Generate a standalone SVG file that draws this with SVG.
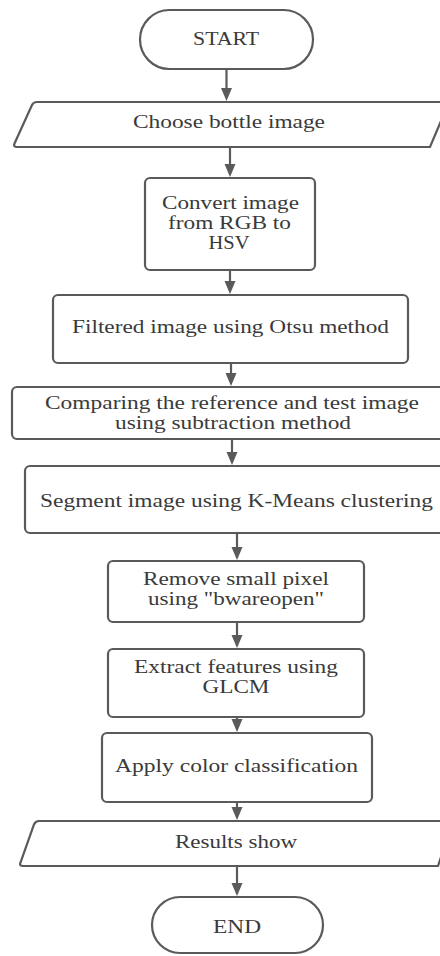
<svg xmlns="http://www.w3.org/2000/svg" width="440" height="956" viewBox="0 0 440 956">
<style>
.shape{fill:#ffffff;stroke:#5a5a5a;stroke-width:2.2}
.conn{stroke:#5a5a5a;stroke-width:2.2;fill:none}
text{font-family:"Liberation Serif","Times New Roman",serif;font-size:18px;fill:#3a3a3a;text-anchor:middle}
</style>
<defs>
<marker id="ah" markerUnits="userSpaceOnUse" markerWidth="14" markerHeight="12" refX="10" refY="5.5" orient="auto">
<path d="M0,0 L13,5.5 L0,11 z" fill="#5a5a5a"/>
</marker>
</defs>
<rect width="440" height="956" fill="#ffffff"/>
<g id="connectors">
<line class="conn" x1="226.5" y1="69" x2="226.5" y2="98" marker-end="url(#ah)"/>
<line class="conn" x1="230" y1="147" x2="230" y2="174" marker-end="url(#ah)"/>
<line class="conn" x1="230" y1="270" x2="230" y2="291" marker-end="url(#ah)"/>
<line class="conn" x1="231" y1="363" x2="231" y2="383" marker-end="url(#ah)"/>
<line class="conn" x1="232" y1="439" x2="232" y2="462" marker-end="url(#ah)"/>
<line class="conn" x1="237" y1="533" x2="237" y2="557" marker-end="url(#ah)"/>
<line class="conn" x1="237" y1="622" x2="237" y2="645" marker-end="url(#ah)"/>
<line class="conn" x1="237" y1="717" x2="237" y2="729" marker-end="url(#ah)"/>
<line class="conn" x1="237" y1="802" x2="237" y2="817" marker-end="url(#ah)"/>
<line class="conn" x1="237" y1="866" x2="237" y2="893" marker-end="url(#ah)"/>
</g>
<g id="start">
<rect class="shape" x="140" y="10" width="173" height="59" rx="29.5"/>
<text x="226" y="45" textLength="66" lengthAdjust="spacingAndGlyphs">START</text>
</g>
<g id="choose">
<path class="shape" d="M37,102 L449,102 L430,147 L17,147 Q13,147 14.5,143.5 L32,105 Q33.5,102 37,102 z"/>
<text x="229" y="128" textLength="192" lengthAdjust="spacingAndGlyphs">Choose bottle image</text>
</g>
<g id="convert">
<rect class="shape" x="145" y="178" width="170" height="92" rx="5"/>
<text x="230.5" y="209" textLength="137" lengthAdjust="spacingAndGlyphs">Convert image</text>
<text x="229.5" y="229" textLength="123" lengthAdjust="spacingAndGlyphs">from RGB to</text>
<text x="229" y="249" textLength="41" lengthAdjust="spacingAndGlyphs">HSV</text>
</g>
<g id="filtered">
<rect class="shape" x="53" y="295" width="355" height="68" rx="5"/>
<text x="230.5" y="333" textLength="317" lengthAdjust="spacingAndGlyphs">Filtered image using Otsu method</text>
</g>
<g id="comparing">
<rect class="shape" x="12" y="387" width="436" height="52" rx="5"/>
<text x="232" y="409" textLength="374" lengthAdjust="spacingAndGlyphs">Comparing the reference and test image</text>
<text x="233" y="429" textLength="236" lengthAdjust="spacingAndGlyphs">using subtraction method</text>
</g>
<g id="segment">
<rect class="shape" x="25" y="466" width="423" height="67" rx="5"/>
<text x="236.5" y="507" textLength="393" lengthAdjust="spacingAndGlyphs">Segment image using K-Means clustering</text>
</g>
<g id="remove">
<rect class="shape" x="108" y="561" width="256" height="61" rx="5"/>
<text x="236" y="585" textLength="186" lengthAdjust="spacingAndGlyphs">Remove small pixel</text>
<text x="236" y="605" textLength="176" lengthAdjust="spacingAndGlyphs">using "bwareopen"</text>
</g>
<g id="extract">
<rect class="shape" x="108" y="649" width="256" height="68" rx="5"/>
<text x="236" y="673" textLength="204" lengthAdjust="spacingAndGlyphs">Extract features using</text>
<text x="236" y="693" textLength="67" lengthAdjust="spacingAndGlyphs">GLCM</text>
</g>
<g id="apply">
<rect class="shape" x="102" y="733" width="270" height="69" rx="5"/>
<text x="236.5" y="772" textLength="243" lengthAdjust="spacingAndGlyphs">Apply color classification</text>
</g>
<g id="results">
<path class="shape" d="M39,821 L453,821 L438,866 L23,866 Q19,866 20.5,862.5 L34,824.5 Q35.5,821 39,821 z"/>
<text x="236" y="848" textLength="122" lengthAdjust="spacingAndGlyphs">Results show</text>
</g>
<g id="end">
<rect class="shape" x="152" y="897" width="171" height="56" rx="28"/>
<text x="237" y="933" textLength="48" lengthAdjust="spacingAndGlyphs">END</text>
</g>
</svg>
